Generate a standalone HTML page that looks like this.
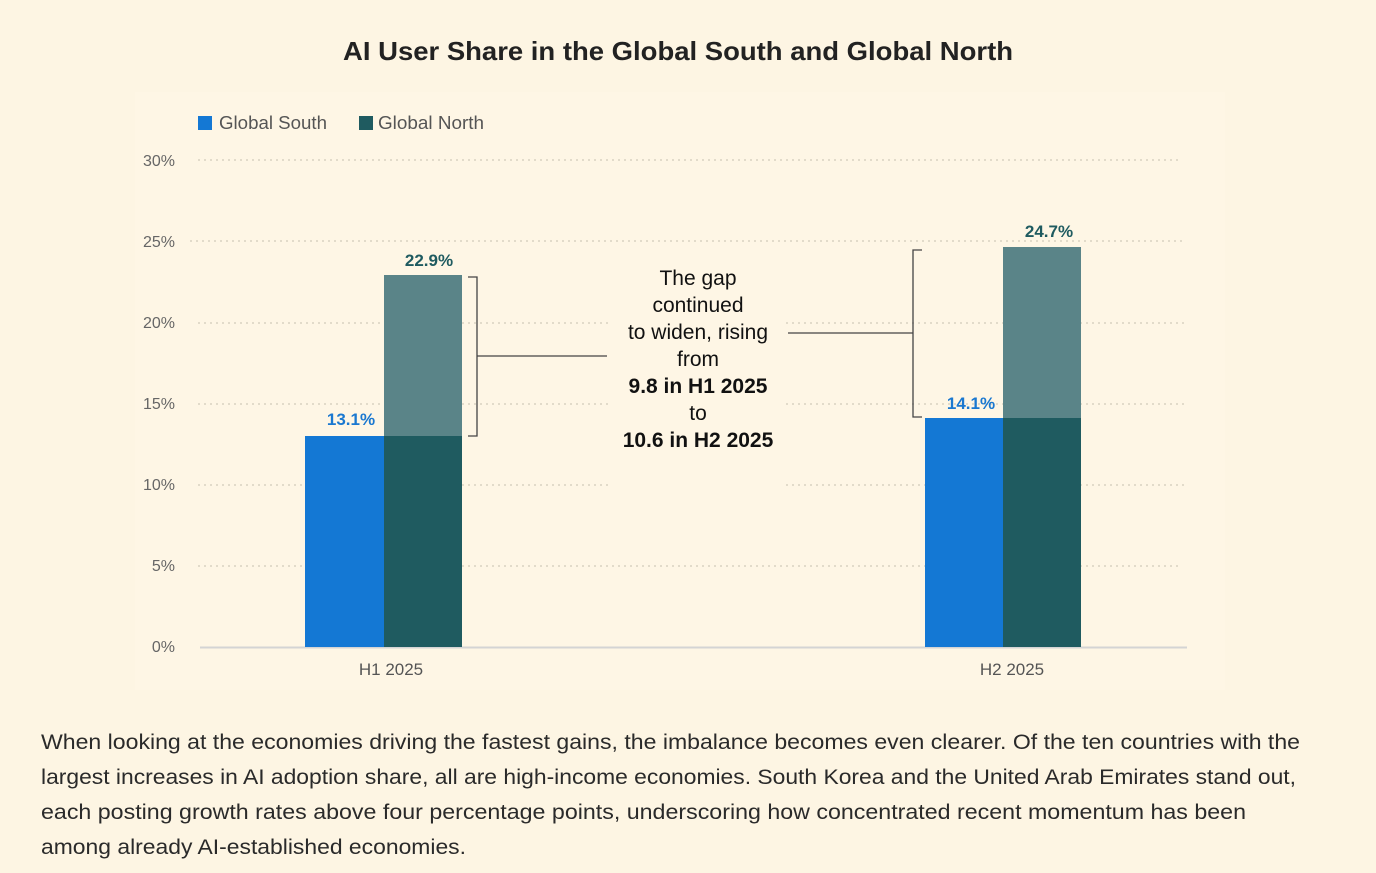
<!DOCTYPE html>
<html><head><meta charset="utf-8"><style>
html,body{margin:0;padding:0;background:#fdf5e3;}
svg{display:block;font-family:"Liberation Sans",sans-serif;}
</style></head><body>
<svg width="1376" height="873" viewBox="0 0 1376 873" xmlns="http://www.w3.org/2000/svg">
<rect width="1376" height="873" fill="#fdf5e3"/>
<rect x="135" y="92" width="1090" height="598" fill="#fef6e5"/>
<text x="678" y="60" text-anchor="middle" font-size="26" font-weight="bold" fill="#222" textLength="670" lengthAdjust="spacingAndGlyphs">AI User Share in the Global South and Global North</text>
<rect x="198" y="116" width="14" height="14" fill="#1478d4"/>
<text x="219" y="129" font-size="18" fill="#555" textLength="108" lengthAdjust="spacingAndGlyphs">Global South</text>
<rect x="359" y="116" width="14" height="14" fill="#1f5b60"/>
<text x="378" y="129" font-size="18" fill="#555" textLength="106" lengthAdjust="spacingAndGlyphs">Global North</text>
<g font-size="16" fill="#666" text-anchor="end">
<text x="175" y="166">30%</text><text x="175" y="247">25%</text><text x="175" y="328">20%</text>
<text x="175" y="409">15%</text><text x="175" y="490">10%</text><text x="175" y="571">5%</text><text x="175" y="652">0%</text>
</g>
<g stroke="#d8d2c2" stroke-width="1.5" stroke-dasharray="2 4">
<line x1="198" y1="160" x2="1182" y2="160"/>
<line x1="190" y1="241" x2="1182" y2="241"/>
<line x1="198" y1="323" x2="608" y2="323"/><line x1="786" y1="323" x2="1188" y2="323"/>
<line x1="198" y1="404" x2="608" y2="404"/><line x1="786" y1="404" x2="1188" y2="404"/>
<line x1="198" y1="485" x2="608" y2="485"/><line x1="786" y1="485" x2="1188" y2="485"/>
<line x1="198" y1="566" x2="1182" y2="566"/>
</g>
<line x1="200" y1="647.5" x2="1187" y2="647.5" stroke="#d4d4d4" stroke-width="2"/>
<rect x="305" y="436" width="79" height="211" fill="#1478d4"/>
<rect x="384" y="436" width="78" height="211" fill="#1f5b60"/>
<rect x="384" y="275" width="78" height="161" fill="#5a8488"/>
<rect x="925" y="418" width="78" height="229" fill="#1478d4"/>
<rect x="1003" y="418" width="78" height="229" fill="#1f5b60"/>
<rect x="1003" y="247" width="78" height="171" fill="#5a8488"/>
<g font-size="17" font-weight="bold" text-anchor="middle">
<text x="351" y="425" fill="#1a78d0">13.1%</text>
<text x="429" y="266" fill="#1f5b60">22.9%</text>
<text x="971" y="409" fill="#1a78d0">14.1%</text>
<text x="1049" y="237" fill="#1f5b60">24.7%</text>
</g>
<g stroke="#444" stroke-width="1.3" fill="none">
<polyline points="468,277 477,277 477,436 468,436"/>
<line x1="477" y1="356" x2="607" y2="356"/>
<polyline points="922,250 913,250 913,417 922,417"/>
<line x1="788" y1="333" x2="913" y2="333"/>
</g>
<g font-size="21" text-anchor="middle" fill="#111">
<text x="698" y="285">The gap</text>
<text x="698" y="312">continued</text>
<text x="698" y="339">to widen, rising</text>
<text x="698" y="366">from</text>
<text x="698" y="393" font-weight="bold">9.8 in H1 2025</text>
<text x="698" y="420">to</text>
<text x="698" y="447" font-weight="bold">10.6 in H2 2025</text>
</g>
<g font-size="17" fill="#555" text-anchor="middle">
<text x="391" y="675">H1 2025</text>
<text x="1012" y="675">H2 2025</text>
</g>
<g font-size="21" fill="#2a2a2a" lengthAdjust="spacingAndGlyphs">
<text x="41" y="749" textLength="1259" lengthAdjust="spacingAndGlyphs">When looking at the economies driving the fastest gains, the imbalance becomes even clearer. Of the ten countries with the</text>
<text x="41" y="784" textLength="1255" lengthAdjust="spacingAndGlyphs">largest increases in AI adoption share, all are high-income economies. South Korea and the United Arab Emirates stand out,</text>
<text x="41" y="819" textLength="1205" lengthAdjust="spacingAndGlyphs">each posting growth rates above four percentage points, underscoring how concentrated recent momentum has been</text>
<text x="41" y="854" textLength="425" lengthAdjust="spacingAndGlyphs">among already AI-established economies.</text>
</g>
</svg>
</body></html>
